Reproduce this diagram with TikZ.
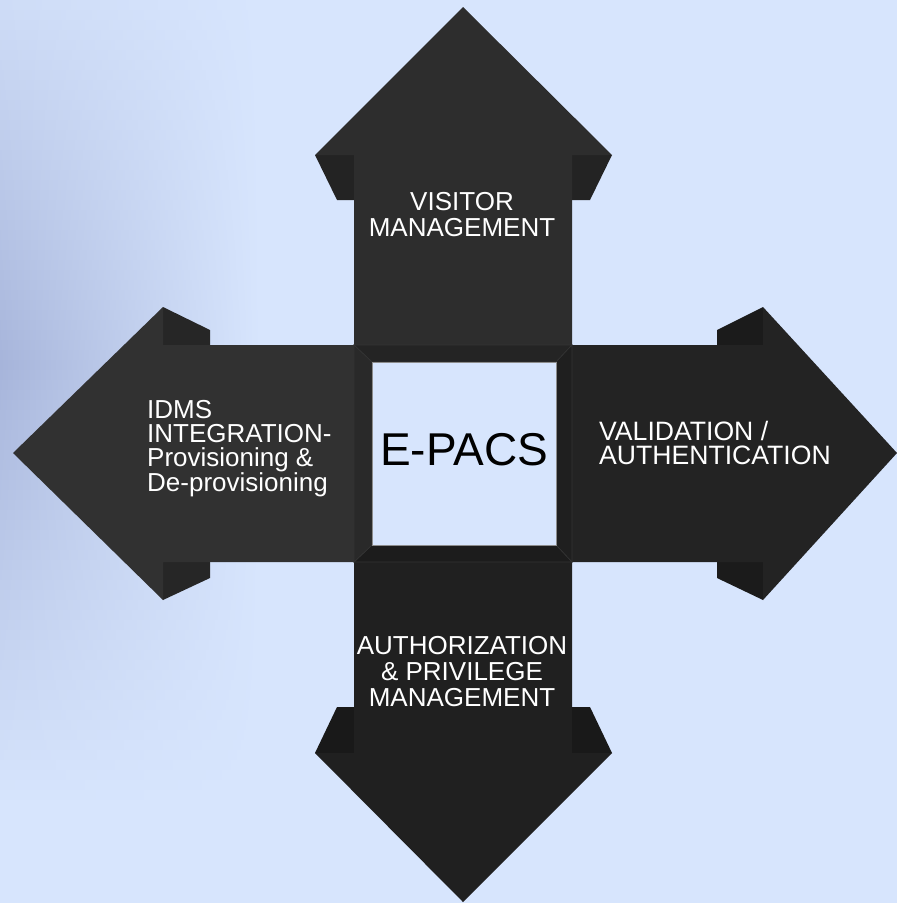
\documentclass[tikz,border=0pt]{standalone}
\usepackage{fontspec}
\setmainfont{Liberation Sans}
\usepackage{tikz}

\definecolor{sky}{HTML}{D7E5FD}
\definecolor{haze}{HTML}{A6B4DA}
\definecolor{upface}{HTML}{2D2D2D}
\definecolor{leftface}{HTML}{313131}
\definecolor{rightface}{HTML}{232323}
\definecolor{downface}{HTML}{202020}
\definecolor{rim}{HTML}{333333}

\begin{document}
\begin{tikzpicture}[x=1pt, y=-1pt,
	face/.style={fill=#1},
	side/.style={fill=#1!78!black},
	bevel/.style={fill=black!#1, draw=rim, line width=0.6pt, line join=miter},
	caption/.style={text=white, inner sep=0pt, align=#1},
	core/.style={fill=sky, draw=black!45, line width=0.8pt, minimum width=184pt, minimum height=183pt, inner sep=0pt, text depth=8pt, font=\fontsize{46}{46}\selectfont}]
	\useasboundingbox (0,0) rectangle (897,903);
	\fill[sky] (0,0) rectangle (897,903);
	\foreach \y in {0,10,...,890} {
		\pgfmathsetmacro\p{max(0,100-abs(\y-360)/4.4)}
		\shade[left color=haze!\p!sky, right color=sky] (0,\y) rectangle (260,\y+11);
	}

	\fill[side=upface] (315,155) -- (354,155) -- (354,200) -- (337,200) -- cycle;
	\fill[side=upface] (612,155) -- (572,155) -- (572,200) -- (590,200) -- cycle;
	\fill[face=upface] (354,346) -- (354,155) -- (315,155) -- (463,7) -- (612,155) -- (572,155) -- (572,346) -- cycle;

	\fill[side=downface] (315,753) -- (337,707) -- (354,707) -- (354,753) -- cycle;
	\fill[side=downface] (612,753) -- (590,707) -- (572,707) -- (572,753) -- cycle;
	\fill[face=downface] (354,561) -- (354,753) -- (315,753) -- (463,902) -- (612,753) -- (572,753) -- (572,561) -- cycle;

	\fill[side=leftface] (163,307) -- (210,330) -- (210,345) -- (163,345) -- cycle;
	\fill[side=leftface] (163,600) -- (210,578) -- (210,562) -- (163,562) -- cycle;
	\fill[face=leftface] (355,345) -- (163,345) -- (163,307) -- (13,453) -- (163,600) -- (163,562) -- (355,562) -- cycle;

	\fill[side=rightface] (763,307) -- (717,330) -- (717,345) -- (763,345) -- cycle;
	\fill[side=rightface] (763,600) -- (717,578) -- (717,562) -- (763,562) -- cycle;
	\fill[face=rightface] (571,345) -- (763,345) -- (763,307) -- (897,453) -- (763,600) -- (763,562) -- (571,562) -- cycle;

	\filldraw[bevel=86] (354,345) -- (572,345) -- (556,362) -- (372,362) -- cycle;
	\filldraw[bevel=88] (572,345) -- (572,562) -- (556,545) -- (556,362) -- cycle;
	\filldraw[bevel=89] (572,562) -- (354,562) -- (372,545) -- (556,545) -- cycle;
	\filldraw[bevel=84] (354,562) -- (354,345) -- (372,362) -- (372,545) -- cycle;

	\node [core] at (464,453.5) (epacs) {E-PACS};

	\node [caption=center, anchor=north, font=\fontsize{26}{26}\selectfont] at (462,192) (visitor) {VISITOR\\MANAGEMENT};
	\node [caption=left, anchor=north west, font=\fontsize{26}{24}\selectfont] at (147,400) (idms) {IDMS\\INTEGRATION-\\Provisioning \&\\De-provisioning};
	\node [caption=left, anchor=north west, font=\fontsize{26.6}{24.5}\selectfont] at (599,421) (valid) {VALIDATION /\\AUTHENTICATION};
	\node [caption=center, anchor=north, font=\fontsize{26}{26}\selectfont] at (462,636) (author) {AUTHORIZATION\\\& PRIVILEGE\\MANAGEMENT};
\end{tikzpicture}
\end{document}
